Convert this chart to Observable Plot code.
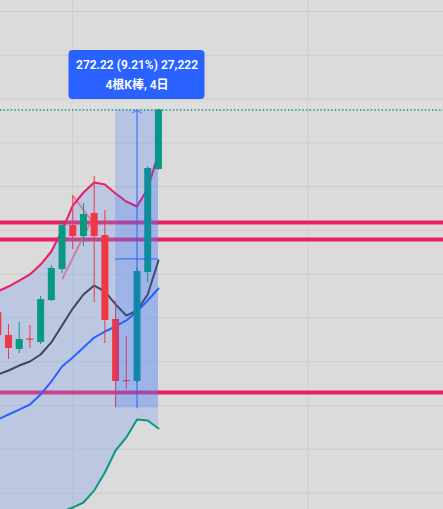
<!DOCTYPE html>
<html><head><meta charset="utf-8">
<script src="https://cdn.jsdelivr.net/npm/d3@7"></script>
<script src="https://cdn.jsdelivr.net/npm/@observablehq/plot@0.6"></script>
<style>html,body{margin:0;padding:0;background:#dbdbdb;overflow:hidden}</style>
</head><body><div id="chart"></div>
<script>
// candle data (bar index, OHLC)
const barIndex = [0,1,2,3,4,5,6,7,8,9,10,11,12,13,14,15];
const opens  = [3045.0,3024.0,3011.2,3020.8,3017.6,3055.9,3084.2,3124.4,3114.4,3135.4,3115.3,3038.6,2982.8,2981.9,3081.5,3175.6];
const highs  = [3051.4,3034.0,3035.8,3033.1,3059.6,3087.9,3128.1,3150.9,3144.5,3169.2,3138.2,3055.0,3023.0,3085.2,3178.3,3230.6];
const lows   = [3019.4,3002.0,3007.5,3012.1,3015.7,3055.0,3080.6,3102.5,3105.3,3054.1,3016.6,2957.8,2974.6,2980.1,3072.4,3174.7];
const closes = [3024.0,3012.1,3020.3,3019.8,3056.8,3085.2,3124.4,3114.4,3134.5,3114.4,3037.7,2981.9,2981.9,3082.4,3176.5,3230.0];
// indicators
const upperBand = [3064.2,3068.7,3074.2,3079.7,3088.8,3100.7,3119.9,3142.7,3154.6,3163.7,3161.9,3153.7,3146.4,3141.8,3158.2,3190.2];
const basisMA   = [2947.2,2951.8,2956.3,2960.9,2970.1,2981.9,2995.6,3003.9,3013.0,3022.1,3027.6,3032.2,3037.7,3045.9,3055.9,3066.9];
const fastMA    = [2988.3,2992.0,2996.5,3000.2,3006.6,3017.6,3033.1,3048.6,3061.4,3069.6,3064.2,3052.3,3042.2,3046.8,3061.4,3092.5];
const lowerBand = [2831.2,2833.9,2836.7,2841.2,2848.5,2856.8,2863.2,2866.8,2871.4,2882.3,2898.8,2918.9,2930.8,2947.2,2946.3,2939.0];
// drawings
const levels = [3127.2, 3111.6, 2971.9];
const trendA = [{i:6.04,p:3076.0},{i:8.75,p:3129.0}];
const trendB = [{i:6.98,p:3151.9},{i:8.75,p:3129.0}];
const measureStart = 11, measureEnd = 15, measureLow = 2957.8, measureHigh = 3230.0;
const label1 = "272.22 (9.21%) 27,222";
const label2 = "4根K棒, 4日";
// grid
const gridPrices = d3.range(2880, 3321, 40);
const gridBars = [7, 29];

const candles = barIndex.map((i,k)=>({i, o:opens[k], h:highs[k], l:lows[k], c:closes[k]}));
const bands = barIndex.map((i,k)=>({i, up:upperBand[k], basis:basisMA[k], fast:fastMA[k], low:lowerBand[k]}));
const measure = [{x1:measureStart, x2:measureEnd, mid:(measureStart+measureEnd)/2, low:measureLow, high:measureHigh, midP:(measureLow+measureHigh)/2}];
const last = [closes[closes.length-1]];
const RED = "#f23645", GREEN = "#089981";
const col = d => d.c >= d.o ? GREEN : RED;

const chart = Plot.plot({
  width: 443, height: 509,
  margin: 0,
  style: {background:"#dbdbdb", fontFamily:"Roboto, 'Noto Sans CJK SC', sans-serif"},
  x: {domain:[0.253, 41.617], range:[0,443], axis:null},
  y: {domain:[2865, 3330], range:[509,0], axis:null},
  marks: [
    Plot.ruleY(gridPrices, {stroke:"#cdcdcd", strokeWidth:1}),
    Plot.ruleX(gridBars, {stroke:"#cdcdcd", strokeWidth:1}),
    Plot.ruleY(levels, {stroke:"#ea1e63", strokeWidth:4}),
    Plot.areaY(bands, {x:"i", y1:"low", y2:"up", fill:"rgb(115,155,245)", fillOpacity:0.29, clip:true}),
    Plot.line(trendA, {x:"i", y:"p", stroke:"#e06088", strokeWidth:1.8, strokeOpacity:0.8}),
    Plot.line(trendB, {x:"i", y:"p", stroke:"#e06088", strokeWidth:1.8, strokeOpacity:0.8}),
    Plot.line(bands, {x:"i", y:"basis", stroke:"#2962ff", strokeWidth:2, clip:true}),
    Plot.line(bands, {x:"i", y:"fast", stroke:"#434651", strokeWidth:2, clip:true}),
    Plot.line(bands, {x:"i", y:"up", stroke:"#e91e63", strokeWidth:2, clip:true}),
    Plot.line(bands, {x:"i", y:"low", stroke:"#089981", strokeWidth:2, clip:true}),
    Plot.ruleX(candles, {x:"i", y1:"l", y2:"h", stroke:col, strokeWidth:1}),
    Plot.ruleX(candles, {x:"i", y1:"o", y2:d=> Math.abs(d.c-d.o)<1.2 ? d.o + (d.c>=d.o?1.1:-1.1) : d.c, stroke:col, strokeWidth:7}),
    Plot.rect(measure, {x1:"x1", x2:"x2", y1:"low", y2:"high", fill:"#2962ff", fillOpacity:0.2}),
    Plot.ruleY(measure, {x1:"x1", x2:"x2", y:"midP", stroke:"#2962ff", strokeWidth:1}),
    Plot.arrow(measure, {x1:"mid", x2:"mid", y1:"low", y2:"high", stroke:"#2962ff", strokeWidth:1, headLength:8, headAngle:110}),
    Plot.ruleY(last, {dy:-5, stroke:"#e6e6e6", strokeWidth:5, strokeDasharray:"2 2", strokeOpacity:0.7}),
    Plot.ruleY(last, {stroke:"#089981", strokeWidth:1.4, strokeDasharray:"1.4 2.2"}),
    Plot.rect(measure, {x1:"mid", x2:"mid", y1:"high", y2:"high", insetLeft:-68, insetRight:-68, insetTop:-59.5, insetBottom:10.5, fill:"#2962ff", rx:4}),
    Plot.text(measure, {x:"mid", y:"high", text:()=>label1, dy:-44.5, fill:"white", fontSize:12, fontWeight:600}),
    Plot.text(measure, {x:"mid", y:"high", text:()=>label2, dy:-24.5, fill:"white", fontSize:12, fontWeight:600})
  ]
});
document.getElementById("chart").appendChild(chart);
</script>
</body></html>
